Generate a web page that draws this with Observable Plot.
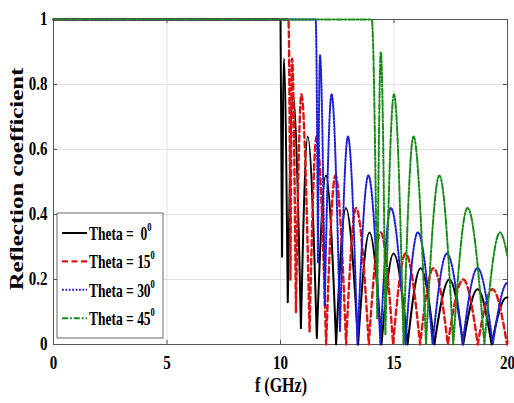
<!DOCTYPE html>
<html><head><meta charset="utf-8">
<script src="https://cdn.jsdelivr.net/npm/d3@7"></script>
<script src="https://cdn.jsdelivr.net/npm/@observablehq/plot@0.6"></script>
<style>
html,body{margin:0;padding:0;background:#fff;}
#chart{position:relative;width:514px;height:403px;}
</style></head><body><div id="chart"></div>
<script>
// ---- data ----
const seriesNames = ["Theta = 0", "Theta = 15", "Theta = 30", "Theta = 45"];

const f0  = [0, 10.0, 10.07, 10.15, 10.32, 10.55, 10.9, 11.2, 11.6, 12.0, 12.45, 12.88, 13.42, 13.92, 14.45, 14.98, 15.6, 16.17, 16.78, 17.44, 18.05, 18.68, 19.3, 19.95, 20];
const r0  = [1, 1, 0.27, 0.88, 0.13, 0.77, 0.05, 0.64, 0.02, 0.52, 0, 0.42, 0, 0.345, 0, 0.28, 0, 0.235, 0, 0.20, 0, 0.17, 0, 0.145, 0.145];

const f15 = [0, 10.35, 10.44, 10.51, 10.68, 10.92, 11.28, 11.59, 12.01, 12.42, 12.89, 13.33, 13.89, 14.41, 14.96, 15.51, 16.15, 16.74, 17.37, 18.05, 18.69, 19.34, 19.98, 20];
const r15 = [1, 1, 0.2, 0.88, 0.1, 0.77, 0.04, 0.64, 0, 0.52, 0, 0.42, 0, 0.345, 0, 0.28, 0, 0.235, 0, 0.20, 0, 0.17, 0, 0.01];

const f30 = [0, 11.55, 11.65, 11.74, 11.95, 12.25, 12.62, 12.97, 13.39, 13.87, 14.4, 14.86, 15.5, 16.05, 16.7, 17.33, 18.02, 18.68, 19.35, 20];
const r30 = [1, 1, 0.25, 0.89, 0.12, 0.77, 0.04, 0.64, 0, 0.52, 0, 0.42, 0, 0.345, 0, 0.28, 0, 0.235, 0, 0.19];

const f45 = [0, 14.02, 14.26, 14.42, 14.62, 15.0, 15.42, 15.86, 16.41, 17.0, 17.61, 18.24, 18.98, 19.67, 20];
const r45 = [1, 1, 0.08, 0.9, 0.03, 0.77, 0, 0.64, 0, 0.52, 0, 0.42, 0, 0.345, 0.27];

const xTicks = [0, 5, 10, 15, 20];
const xTickLabels = ["0", "5", "10", "15", "20"];
const yTicks = [0, 0.2, 0.4, 0.6, 0.8, 1];
const yTickLabels = ["0", "0.2", "0.4", "0.6", "0.8", "1"];
const xLabel = "f (GHz)";
const yLabel = "Reflection coefficient";

// ---- styling ----
const colors = ["#000000", "#dd1414", "#1e1ed8", "#1a8a1a"];
const dashes = ["none", "6,3.5", "1.8,1.6", "6,2,1.8,2"];
const widths = [2, 2.4, 2, 2];
const font = "'Liberation Serif', 'Times New Roman', serif";

const series = [[f0, r0], [f15, r15], [f30, r30], [f45, r45]];
const rows = series.map(([fs, rs], k) => fs.map((f, i) => ({f, r: rs[i], s: seriesNames[k]})));

// arch-shaped interpolation: steep at minima, flat at maxima
function archCurve(context) {
  let pts;
  return {
    areaStart() {}, areaEnd() {},
    lineStart() { pts = []; },
    point(x, y) { pts.push([+x, +y]); },
    lineEnd() {
      if (!pts.length) return;
      context.moveTo(pts[0][0], pts[0][1]);
      const k = Math.PI / 6;
      for (let i = 1; i < pts.length; i++) {
        const [x0, y0] = pts[i - 1], [x1, y1] = pts[i];
        const dx = x1 - x0, dy = y1 - y0;
        if (Math.abs(dy) < 1e-6) { context.lineTo(x1, y1); continue; }
        if (dy < 0) context.bezierCurveTo(x0 + dx / 3, y0 + dy * k, x1 - dx / 3, y1, x1, y1);
        else context.bezierCurveTo(x0 + dx / 3, y0, x1 - dx / 3, y1 - dy * k, x1, y1);
      }
    }
  };
}

const plot = Plot.plot({
  width: 514, height: 403,
  marginLeft: 53, marginRight: 7, marginTop: 19, marginBottom: 59,
  x: {domain: [0, 20]},
  y: {domain: [0, 1]},
  style: {fontFamily: font, fontSize: "15px", fontWeight: "bold", background: "#fff", color: "#000"},
  marks: [
    Plot.gridX(xTicks, {stroke: "#e2e2e2", strokeOpacity: 1}),
    Plot.gridY(yTicks, {stroke: "#e2e2e2", strokeOpacity: 1}),
    Plot.ruleY(yTicks, {y: d => d, x1: 0, x2: 0.18, stroke: "#555"}),
    Plot.ruleY(yTicks, {y: d => d, x1: 19.82, x2: 20, stroke: "#555"}),
    Plot.ruleX(xTicks, {x: d => d, y1: 0, y2: 0.013, stroke: "#555"}),
    Plot.ruleX(xTicks, {x: d => d, y1: 0.987, y2: 1, stroke: "#555"}),
    Plot.frame({stroke: "#555", strokeWidth: 1}),
    Plot.axisX(xTicks, {tickSize: 0, tickPadding: 13, label: null, tickFormat: d => xTickLabels[xTicks.indexOf(d)]}),
    Plot.axisY(yTicks, {tickSize: 0, tickPadding: 6, label: null, tickFormat: d => yTickLabels[yTicks.indexOf(d)]}),
    ...rows.map((data, k) => Plot.line(data, {
      x: "f", y: "r", stroke: colors[k], strokeWidth: widths[k],
      strokeDasharray: dashes[k], curve: archCurve, strokeLinejoin: "round"
    }))
  ]
});

document.getElementById("chart").appendChild(plot);

function stretch(el, sy) {
  const bb = el.getBBox();
  const cx = bb.x + bb.width / 2, cy = bb.y + bb.height / 2;
  const t = el.getAttribute("transform") || "";
  el.setAttribute("transform", `${t} translate(${cx},${cy}) scale(1,${sy}) translate(${-cx},${-cy})`);
}
plot.querySelectorAll("text").forEach(el => stretch(el, 1.2));

const svg = d3.select(plot);
// axis titles
svg.append("text")
  .attr("transform", "translate(17,179) scale(1,1.38) rotate(-90)")
  .attr("text-anchor", "middle").attr("dominant-baseline", "central")
  .attr("font-size", 18).attr("font-weight", "bold").attr("font-family", font)
  .text(yLabel);
svg.append("text")
  .attr("transform", "translate(281,385) scale(1,1.25)")
  .attr("text-anchor", "middle").attr("dominant-baseline", "central")
  .attr("font-size", 16).attr("font-weight", "bold").attr("font-family", font)
  .text(xLabel);

// legend
const lg = svg.append("g").attr("text-anchor", "start");
lg.append("rect").attr("x", 57).attr("y", 213).attr("width", 106).attr("height", 125)
  .attr("fill", "#fff").attr("stroke", "#444").attr("stroke-width", 0.8);
seriesNames.forEach((name, k) => {
  const y = 233 + k * 28.4;
  lg.append("line").attr("x1", 62).attr("x2", 87).attr("y1", y).attr("y2", y)
    .attr("stroke", colors[k]).attr("stroke-width", widths[k]).attr("stroke-dasharray", dashes[k]);
  const t = lg.append("text")
    .attr("transform", `translate(89,${y}) scale(1,1.35)`)
    .attr("text-anchor", "start")
    .attr("dominant-baseline", "central")
    .attr("font-size", 13.5).attr("font-weight", "bold").attr("font-family", font)
    .style("white-space", "pre");
  const parts = name.split("= ");
  t.append("tspan").text(parts[0] + "= " + (parts[1].length < 2 ? " " : "") + parts[1]);
  t.append("tspan").attr("dy", -5).attr("font-size", 8.5).text("0");
});
</script>
</body></html>
